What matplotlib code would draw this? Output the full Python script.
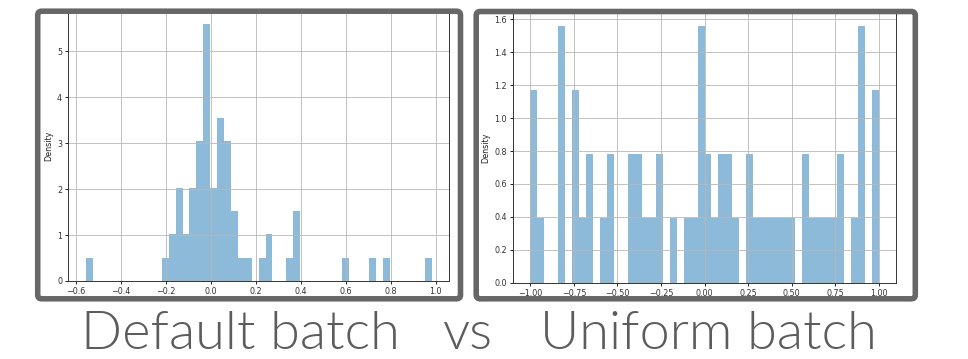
import matplotlib
matplotlib.use('Agg')
import matplotlib.pyplot as plt
import numpy as np
from matplotlib.patches import FancyBboxPatch
from matplotlib.transforms import IdentityTransform

W, H = 968, 359

# Histogram counts per bin (64 samples, 50 bins each)
default_range = (-0.556, 0.983)
default_counts = [1, 0, 0, 0, 0, 0, 0, 0, 0, 0,
                  0, 1, 2, 4, 2, 4, 6, 11, 4, 7,
                  6, 3, 1, 1, 0, 1, 2, 0, 0, 1,
                  3, 0, 0, 0, 0, 0, 0, 1, 0, 0,
                  0, 1, 0, 1, 0, 0, 0, 0, 0, 1]

uniform_range = (-1.0, 1.0)
uniform_counts = [3, 1, 0, 0, 4, 0, 3, 1, 2, 0,
                  1, 2, 0, 0, 2, 2, 1, 1, 2, 0,
                  1, 0, 1, 1, 4, 2, 1, 2, 2, 1,
                  0, 2, 1, 1, 1, 1, 1, 1, 0, 2,
                  1, 1, 1, 1, 2, 0, 1, 4, 0, 3]

caption = ['Default batch', 'vs', 'Uniform batch']

FRAME_COLOR = '#676767'
TEXT_COLOR = '#5c5c5c'


def px_axes(fig, left, right, top, bottom):
    """Add axes placed by pixel edges (y measured from the top)."""
    return fig.add_axes([left / W, 1 - bottom / H,
                         (right - left) / W, (bottom - top) / H])


def draw_hist(ax, counts, value_range):
    edges = np.linspace(value_range[0], value_range[1], len(counts) + 1)
    centers = (edges[:-1] + edges[1:]) / 2
    ax.hist(centers, bins=edges, weights=counts, density=True,
            color='#1f77b4', alpha=0.5)
    ax.grid(True, color='#b8b8b8', linewidth=0.6)
    ax.set_ylabel('Density', fontsize=5.8, color='#222222', labelpad=3)
    ax.tick_params(labelsize=5.8, labelcolor='#333333', length=2.5,
                   width=0.6, pad=2)
    for sp in ax.spines.values():
        sp.set_linewidth(0.7)
        sp.set_color('#333333')


def frame(fig, x0, y0, x1, y1):
    """Dark rounded frame, pixel coords with y from the top."""
    p = FancyBboxPatch((x0, H - y1), x1 - x0, y1 - y0,
                       boxstyle='round,pad=0,rounding_size=4',
                       transform=IdentityTransform(), fill=False,
                       edgecolor=FRAME_COLOR, linewidth=4.0, zorder=10)
    fig.add_artist(p)


fig = plt.figure(figsize=(W / 100, H / 100), dpi=100)

ax1 = px_axes(fig, 68.3, 449, 11.3, 281)
draw_hist(ax1, default_counts, default_range)

ax2 = px_axes(fig, 513, 896, 12.8, 282.7)
draw_hist(ax2, uniform_counts, uniform_range)

frame(fig, 37.7, 11.2, 460.5, 298.8)
frame(fig, 476.2, 11.5, 915.3, 298.8)

font = ['Lato', 'DejaVu Sans']
for label, cx in zip(caption, [240, 468, 708]):
    fig.text(cx / W, 1 - 349 / H, label, ha='center', va='baseline',
             fontsize=39, color=TEXT_COLOR, family=font, fontweight=300)

fig.savefig('out.png', dpi=100)
